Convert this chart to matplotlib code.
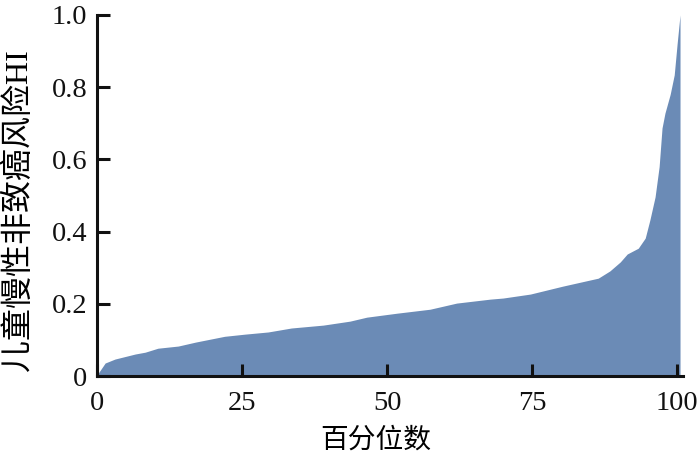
import matplotlib
matplotlib.use("Agg")
import matplotlib.pyplot as plt

# percentile / HI values
pct = [0, 0.3, 1.4, 3.1, 6.6, 8.3, 10.5, 14, 17, 22, 25.5, 29.5, 33.5, 39,
       43.6, 46.5, 51.7, 57.4, 62, 67.8, 70, 74.7, 80.3, 86.4, 88.4, 90.2,
       91.4, 93.3, 94.5, 95.3, 96.2, 96.9, 97.4, 97.9, 98.8, 99.5, 100, 100.5]
hi = [0, 0.01, 0.036, 0.047, 0.061, 0.066, 0.077, 0.083, 0.094, 0.11, 0.116,
      0.122, 0.133, 0.141, 0.152, 0.163, 0.174, 0.185, 0.202, 0.213, 0.216,
      0.227, 0.249, 0.271, 0.291, 0.316, 0.338, 0.354, 0.382, 0.432, 0.496,
      0.58, 0.687, 0.728, 0.78, 0.834, 0.92, 1.0]
xticks = [0, 25, 50, 75, 100]
yticks = [0, 0.2, 0.4, 0.6, 0.8, 1.0]
ytick_labels = ["0", "0.2", "0.4", "0.6", "0.8", "1.0"]

fonts = ["Liberation Serif", "Noto Sans CJK SC"]
plt.rcParams["font.family"] = fonts

fig = plt.figure(figsize=(7, 4.57), dpi=100)
ax = fig.add_axes([0.1386, 0.1772, 0.837, 0.790])

ax.fill_between(pct, hi, 0, color="#6b8bb6", linewidth=0)

ax.set_xlim(0, 101)
ax.set_ylim(0, 1.0)
ax.set_xticks(xticks)
ax.set_yticks(yticks)
ax.set_yticklabels(ytick_labels)

for s in ["top", "right"]:
    ax.spines[s].set_visible(False)
for s in ["left", "bottom"]:
    ax.spines[s].set_linewidth(2.2)
    ax.spines[s].set_color("#111111")

ax.tick_params(direction="in", length=9, width=2.2, labelsize=20.5,
               colors="#111111")
ax.tick_params(axis="y", pad=7)
ax.tick_params(axis="x", pad=11)

fig.text(19 / 700, 1 - 210 / 457, "儿童慢性非致癌风险HI", rotation=90,
         ha="center", va="center", fontsize=23, family=fonts)
fig.text(376 / 700, 1 - 441 / 457, "百分位数", ha="center", va="center",
         fontsize=20, family=fonts)

fig.savefig("out.png", dpi=100)
